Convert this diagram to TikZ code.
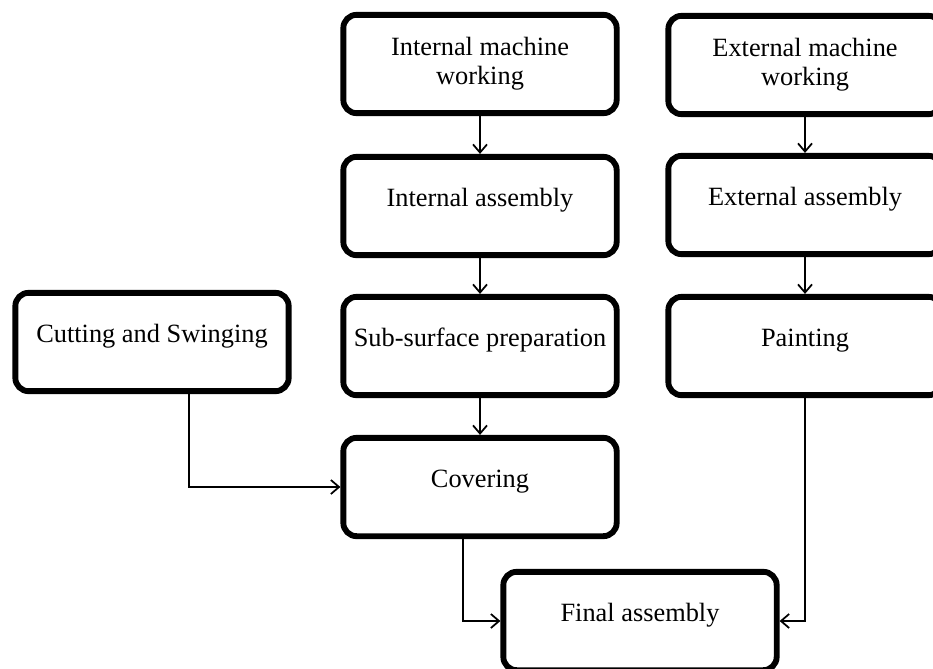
\documentclass[tikz,border=0pt]{standalone}
\usepackage{fontspec}
\setmainfont{Liberation Serif}
\usetikzlibrary{arrows.meta}
\tikzset{%
	stage/.style   = {draw, rectangle, rounded corners=0.4cm, line width=5pt, minimum width=8.2cm, minimum height=2.95cm, align=center, font=\fontsize{22.5}{25}\selectfont},
	oneline/.style = {stage, text height=0.7em, text depth=0.62em},
	arrow/.style   = {line width=1.5pt, -{Straight Barb[length=7pt,width=12pt]}},
}

\begin{document}
\begin{tikzpicture}[x=0.03cm,y=-0.03cm]
	\useasboundingbox (0,0) rectangle (933,668);
	\clip (0,0) rectangle (933,668);
	
	% internal line
	\node[stage]   (imw) at (480,64) {Internal machine\\working};
	\node[oneline] (ia)  at (480,206) {Internal assembly};
	\node[oneline] (ssp) at (480,346) {Sub-surface preparation};
	\node[oneline] (cov) at (480,487) {Covering};
	
	% external line
	\node[stage]   (emw) at (805,65) {External machine\\working};
	\node[oneline] (ea)  at (805,205) {External assembly};
	\node[oneline] (pnt) at (805,346) {Painting};
	
	\node[oneline] (cs) at (152,342) {Cutting and Swinging};
	\node[oneline] (fa) at (640,621) {Final assembly};
	
	\draw[arrow] (imw) -- (ia);
	\draw[arrow] (ia) -- (ssp);
	\draw[arrow] (ssp) -- (cov);
	\draw[arrow] (emw) -- (ea);
	\draw[arrow] (ea) -- (pnt);
	\draw[arrow] ([xshift=1.1cm]cs.south) |- (cov.west);
	\draw[arrow] ([xshift=-0.5cm]cov.south) |- (fa.west);
	\draw[arrow] (pnt.south) |- (fa.east);
	
\end{tikzpicture}
\end{document}
